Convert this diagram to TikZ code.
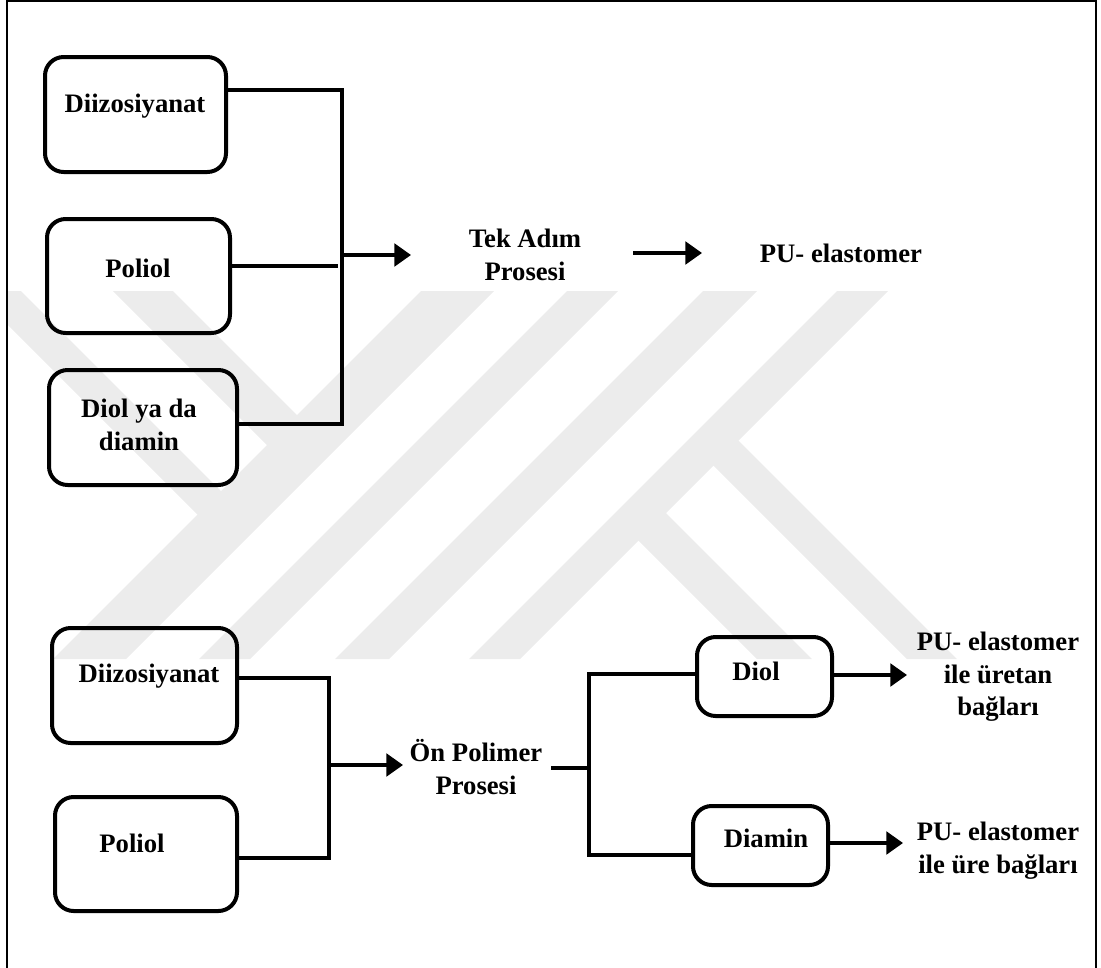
\documentclass[tikz,border=0pt]{standalone}
\usepackage{fontspec}
\setmainfont{Liberation Serif}
\usetikzlibrary{arrows.meta}
\definecolor{wm}{RGB}{236,236,236}
\begin{document}
\begin{tikzpicture}[x=0.75pt,y=-0.75pt,
  box/.style={draw, line width=3pt, rounded corners=14pt, inner sep=0pt},
  lbl/.style={font=\fontsize{20}{24.5}\selectfont\bfseries, align=center, inner sep=0pt},
  conn/.style={line width=2.5pt},
  arr/.style={line width=2.5pt, -{Triangle[length=12.5pt,width=17pt]}},
]
\useasboundingbox (0,0) rectangle (1101,968);
% watermark
\begin{scope}
\clip (7,291) rectangle (1096,659);
\fill[wm] (421,291) -- (494,291) -- (126,659) -- (53,659) -- cycle;
\fill[wm] (567,291) -- (618,291) -- (250,659) -- (199,659) -- cycle;
\fill[wm] (703,291) -- (757,291) -- (389,659) -- (335,659) -- cycle;
\fill[wm] (837,291) -- (888,291) -- (520,659) -- (469,659) -- cycle;
\fill[wm] (-26,291) -- (21,291) -- (240,510) -- (216.5,533.5) -- cycle;
\fill[wm] (113,291) -- (173,291) -- (316,434) -- (286,464) -- cycle;
\fill[wm] (699,451) -- (724,426) -- (957,659) -- (907,659) -- cycle;
\fill[wm] (624,526) -- (651.5,498.5) -- (812,659) -- (757,659) -- cycle;
\end{scope}
% frame
\draw[line width=1.5pt] (7,968) -- (7,1) -- (1096,1) -- (1096,968);
% nodes
\node[box, minimum width=135.75pt, minimum height=86.25pt] (d1) at (135.5,114.5) {};
\node[lbl] (t_d1) at (135,106) {Diizosiyanat};
\node[box, minimum width=137.25pt, minimum height=85.5pt] (p1) at (138.5,276) {};
\node[lbl] (t_p1) at (138,268) {Poliol};
\node[box, minimum width=141pt, minimum height=86.25pt] (dd1) at (143,427.5) {};
\node[lbl] (t_dd1) at (139,425) {Diol ya da\\diamin};
\node[lbl] (tek) at (525,255) {Tek Adım\\Prosesi};
\node[lbl] (pu1) at (841,253) {PU- elastomer};
\node[box, minimum width=138.75pt, minimum height=86.25pt] (d2) at (144.5,685.5) {};
\node[lbl] (t_d2) at (149,676) {Diizosiyanat};
\node[box, minimum width=136.5pt, minimum height=85.5pt] (p2) at (146,854) {};
\node[lbl] (t_p2) at (132,843) {Poliol};
\node[lbl] (on) at (476,767) {Ön Polimer\\Prosesi};
\node[box, minimum width=101.25pt, minimum height=59.25pt] (diol) at (764.5,676.5) {};
\node[lbl] (t_diol) at (756,671) {Diol};
\node[box, minimum width=101.25pt, minimum height=59.25pt] (diamin) at (760.5,845.5) {};
\node[lbl] (t_diamin) at (766,838) {Diamin};
\node[lbl] (pu2) at (998,677) {PU- elastomer\\ile üretan\\bağları};
\node[lbl] (pu3) at (998,851) {PU- elastomer\\ile üre bağları};
% coordinates
\coordinate (j1t) at (342,90);
\coordinate (j1b) at (342,424);
\coordinate (j1m) at (342,255);
\coordinate (p1e) at (338,266);
\coordinate (a1e) at (411,255);
\coordinate (a2s) at (633,253);
\coordinate (a2e) at (702,253);
\coordinate (j2t) at (329,678);
\coordinate (j2b) at (329,858);
\coordinate (j2m) at (329,765);
\coordinate (a3e) at (403,765);
\coordinate (s1) at (551,768);
\coordinate (j3m) at (589,768);
\coordinate (j3t) at (589,674);
\coordinate (j3b) at (589,855);
\coordinate (a4e) at (907,675);
\coordinate (a5e) at (903,843);
% connectors
\draw[conn] (d1.east |- j1t) -- (j1t) -- (j1b) -- (dd1.east |- j1b);
\draw[conn] (p1.east |- p1e) -- (p1e);
\draw[arr] (j1m) -- (a1e);
\draw[arr] (a2s) -- (a2e);
\draw[conn] (d2.east |- j2t) -- (j2t) -- (j2b) -- (p2.east |- j2b);
\draw[arr] (j2m) -- (a3e);
\draw[conn] (s1) -- (j3m);
\draw[conn] (diol.west |- j3t) -- (j3t) -- (j3b) -- (diamin.west |- j3b);
\draw[arr] (diol.east |- a4e) -- (a4e);
\draw[arr] (diamin.east |- a5e) -- (a5e);
\end{tikzpicture}
\end{document}
